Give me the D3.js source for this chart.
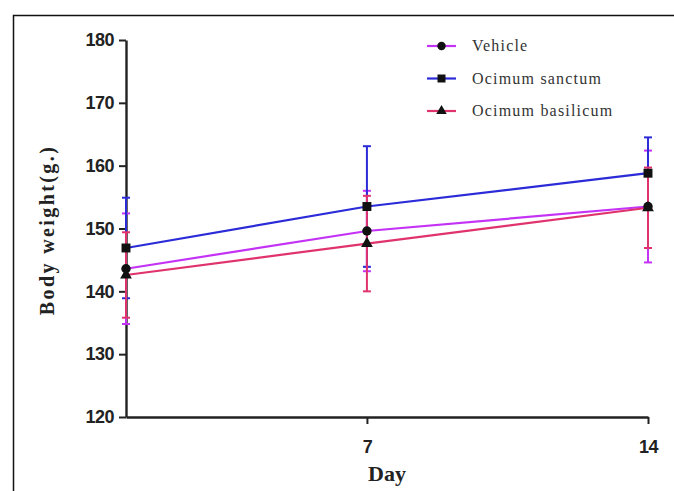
<!DOCTYPE html>
<html>
<head>
    <title>Body weight</title>
    <script src="https://cdn.jsdelivr.net/npm/d3@7"></script>
    <style>
        body { margin: 0; background: #fff; }
    </style>
</head>
<body>
    <svg width="674" height="491" id="mainsvg"></svg>
    <script>
        // data
        const days = [1, 7, 14];
        const dayTicks = [7, 14];
        const seriesNames = ['Vehicle', 'Ocimum sanctum', 'Ocimum basilicum'];
        const vehicleMean = [143.6, 149.6, 153.5];
        const vehicleErr = [8.8, 6.4, 8.9];
        const sanctumMean = [146.9, 153.5, 158.8];
        const sanctumErr = [8.0, 9.6, 5.7];
        const basilicumMean = [142.6, 147.6, 153.3];
        const basilicumErr = [6.8, 7.6, 6.4];
        const yTicks = [120, 130, 140, 150, 160, 170, 180];

        const series = [
            { name: seriesNames[0], mean: vehicleMean, err: vehicleErr, color: '#c433f5', shape: d3.symbolCircle, size: 70 },
            { name: seriesNames[1], mean: sanctumMean, err: sanctumErr, color: '#2b2bd8', shape: d3.symbolSquare, size: 80 },
            { name: seriesNames[2], mean: basilicumMean, err: basilicumErr, color: '#e0336e', shape: d3.symbolTriangle, size: 60 }
        ];

        const svg = d3.select('svg');
        const x = d3.scaleLinear().domain([1, 14]).range([126, 648]);
        const y = d3.scaleLinear().domain([120, 180]).range([417, 40]);

        // frame
        svg.append('rect').attr('x', 13.5).attr('y', 15.5).attr('width', 700).attr('height', 500)
            .attr('fill', 'none').attr('stroke', '#111').attr('stroke-width', 1.5);

        // axes
        const yAxis = svg.append('g').attr('transform', `translate(${x(1)},0)`)
            .call(d3.axisLeft(y).tickValues(yTicks).tickSize(7).tickSizeOuter(0));
        const xAxis = svg.append('g').attr('transform', `translate(0,${y(120)})`)
            .call(d3.axisBottom(x).tickValues(dayTicks).tickSize(7).tickSizeOuter(0));
        [yAxis, xAxis].forEach(g => {
            g.select('.domain').attr('stroke', '#222').attr('stroke-width', 2.4);
            g.selectAll('.tick line').attr('stroke', '#222').attr('stroke-width', 2);
            g.selectAll('.tick text').attr('fill', '#222')
                .style('font-family', '"Liberation Sans", Arial, sans-serif')
                .style('font-weight', 'bold').style('font-size', '18px')
                .style('letter-spacing', '-0.5px');
        });
        yAxis.selectAll('.tick text').attr('x', -12);
        xAxis.selectAll('.tick text').attr('y', 23);

        // axis titles
        svg.append('text').attr('transform', 'translate(54,230) rotate(-90)')
            .attr('text-anchor', 'middle').attr('fill', '#222')
            .style('font-family', '"Liberation Serif", "Times New Roman", serif')
            .style('font-weight', 'bold').style('font-size', '20px')
            .style('letter-spacing', '2.4px')
            .text('Body weight(g.)');
        svg.append('text').attr('x', 387).attr('y', 481)
            .attr('text-anchor', 'middle').attr('fill', '#222')
            .style('font-family', '"Liberation Serif", "Times New Roman", serif')
            .style('font-weight', 'bold').style('font-size', '22px')
            .text('Day');

        const line = d3.line().x((d, i) => x(days[i])).y(d => y(d));

        series.forEach(s => {
            const g = svg.append('g');
            // error bars
            days.forEach((day, i) => {
                const cx = x(day);
                const lo = y(s.mean[i] - s.err[i]);
                const hi = y(s.mean[i] + s.err[i]);
                g.append('line').attr('x1', cx).attr('x2', cx).attr('y1', lo).attr('y2', hi)
                    .attr('stroke', s.color).attr('stroke-width', 2);
                [lo, hi].forEach(yy => {
                    g.append('line').attr('x1', cx - 4).attr('x2', cx + 4).attr('y1', yy).attr('y2', yy)
                        .attr('stroke', s.color).attr('stroke-width', 2);
                });
            });
            g.append('path').datum(s.mean).attr('d', line)
                .attr('fill', 'none').attr('stroke', s.color).attr('stroke-width', 2.2);
        });

        // markers on top
        series.forEach(s => {
            svg.append('g').selectAll('path').data(s.mean).join('path')
                .attr('transform', (d, i) => `translate(${x(days[i])},${y(d)})`)
                .attr('d', d3.symbol().type(s.shape).size(s.size))
                .attr('fill', '#111');
        });

        // legend
        const legend = svg.append('g');
        const legendY = d3.scalePoint().domain(seriesNames).range([46, 111]);
        series.forEach(s => {
            const ly = legendY(s.name);
            legend.append('line').attr('x1', 427).attr('x2', 456).attr('y1', ly).attr('y2', ly)
                .attr('stroke', s.color).attr('stroke-width', 2.2);
            legend.append('path').attr('transform', `translate(441.5,${ly})`)
                .attr('d', d3.symbol().type(s.shape).size(s.size * 0.8)).attr('fill', '#111');
            legend.append('text').attr('x', 472).attr('y', ly + 5).attr('fill', '#333')
                .style('font-family', '"Liberation Serif", "Times New Roman", serif')
                .style('font-size', '16px').style('letter-spacing', '1.2px')
                .text(s.name);
        });
    </script>
</body>
</html>
